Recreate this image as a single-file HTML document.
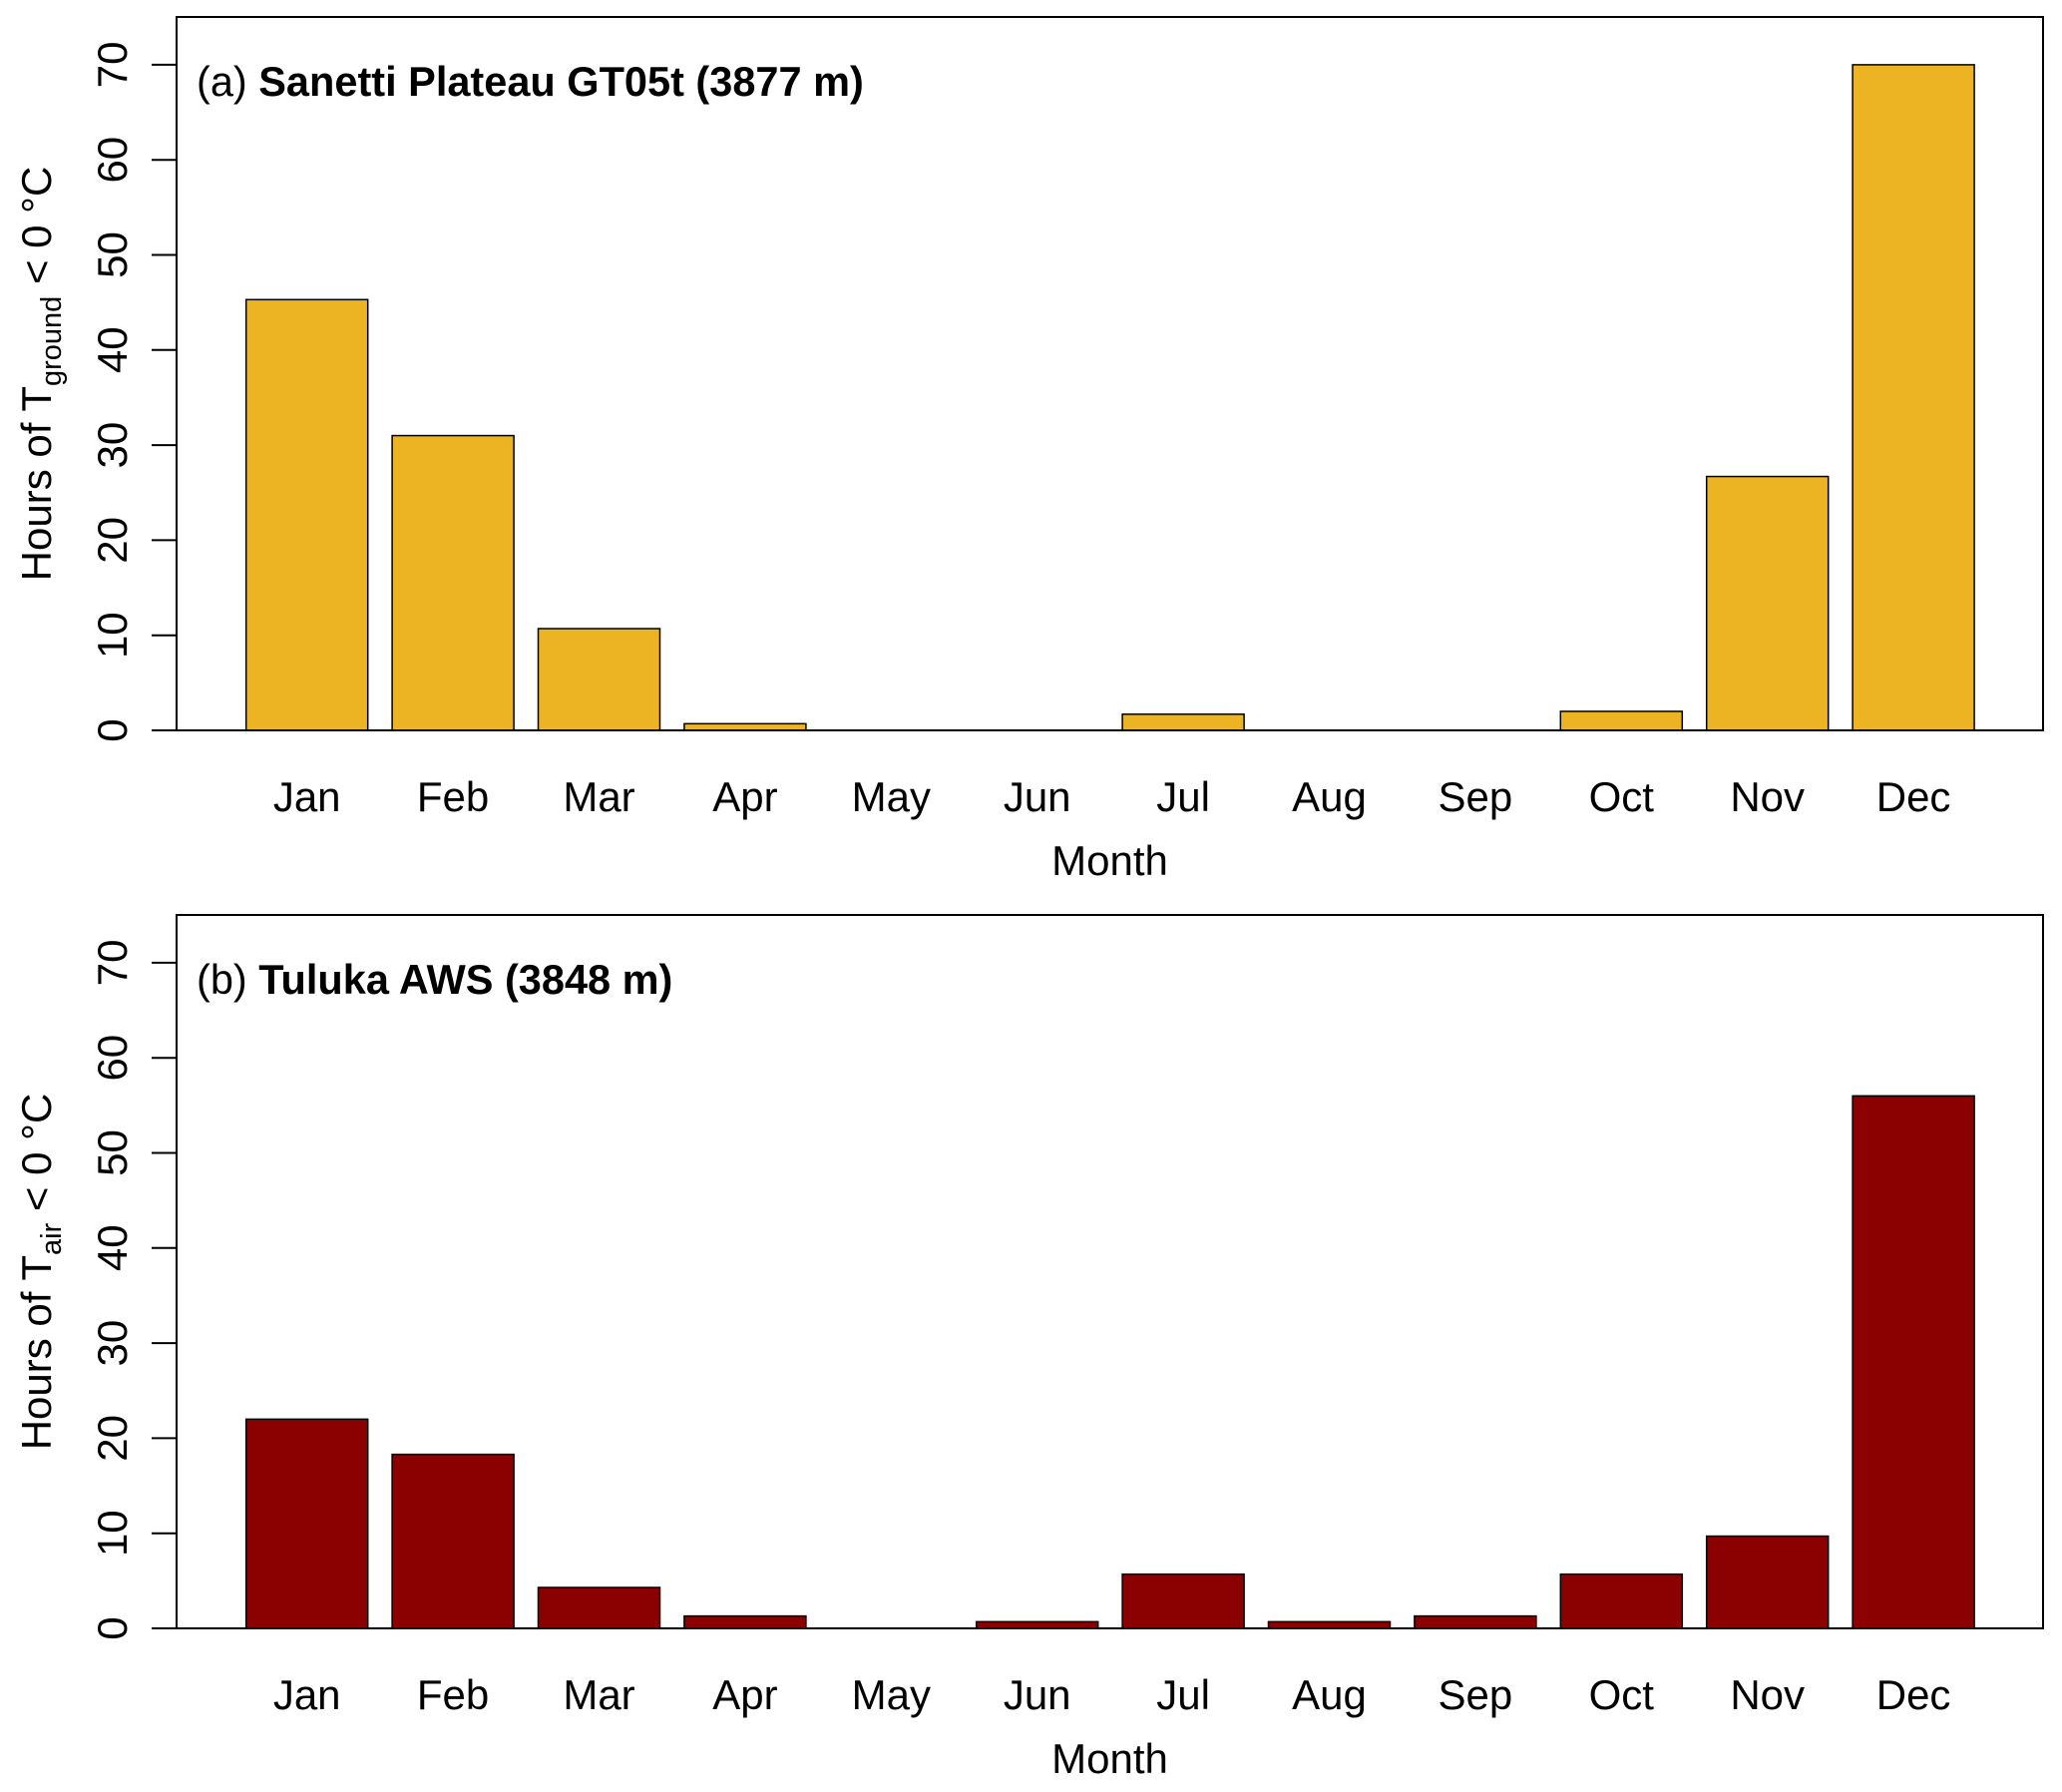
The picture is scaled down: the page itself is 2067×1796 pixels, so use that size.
<!DOCTYPE html>
<html><head><meta charset="utf-8"><style>
html,body{margin:0;padding:0;background:#fff;}
svg{display:block;font-family:"Liberation Sans",Arial,sans-serif;}
</style></head><body>
<svg id="chart" width="2067" height="1796" viewBox="0 0 2067 1796" xmlns="http://www.w3.org/2000/svg"></svg>
<script>
const months = ["Jan","Feb","Mar","Apr","May","Jun","Jul","Aug","Sep","Oct","Nov","Dec"];
const groundHours = [45.3,31,10.7,0.7,0,0,1.7,0,0,2,26.7,70];
const airHours = [22,18.3,4.3,1.3,0,0.7,5.7,0.7,1.3,5.7,9.7,56];
const yTicks = [0,10,20,30,40,50,60,70];

const NS = "http://www.w3.org/2000/svg";
const svg = document.getElementById("chart");
function mk(tag, attrs, parent){
  const e = document.createElementNS(NS, tag);
  for (const k in attrs) e.setAttribute(k, attrs[k]);
  (parent||svg).appendChild(e);
  return e;
}
const L = 177, R = 2048, x0 = 246.7, step = 146.4, bw = 122, pxPerUnit = 9.53;

function panel(key, top, bottom, values, color, titleA, titleB, sub){
  const g = mk("g", {});
  
  
  const y = v => bottom - v * pxPerUnit;
  const xc = i => x0 + i * step + bw / 2;
  values.forEach((v, i) => {
    const h = v * pxPerUnit;
    const r = mk("rect", {x: x0 + i*step, y: y(v), width: bw, height: Math.max(h, 0.01), fill: color, stroke: "#000", "stroke-width": 1.5}, g);
    
    
  });
  const box = mk("rect", {x: L, y: top, width: R-L, height: bottom-top, fill: "none", stroke: "#000", "stroke-width": 2}, g);
  
  
  yTicks.forEach(t => {
    const ln = mk("line", {x1: 152, x2: L, y1: y(t), y2: y(t), stroke: "#000", "stroke-width": 2}, g);
    
    
    const tx = mk("text", {x: 127, y: y(t), "font-size": 42, "text-anchor": "middle", transform: `rotate(-90 127 ${y(t)})`}, g);
    
    
    tx.textContent = t;
  });
  months.forEach((m, i) => {
    const tx = mk("text", {x: xc(i), y: bottom + 81, "font-size": 42, "text-anchor": "middle"}, g);
    
    
    tx.textContent = m;
  });
  const xt = mk("text", {x: (L+R)/2, y: bottom + 145, "font-size": 42, "text-anchor": "middle"}, g);
  
  
  xt.textContent = "Month";
  const cy = (top + bottom) / 2;
  const yt = mk("text", {x: 51, y: cy, "font-size": 42, "text-anchor": "middle", transform: `rotate(-90 51 ${cy})`}, g);
  
  
  const t1 = mk("tspan", {}, yt); t1.textContent = "Hours of T";
  const t2 = mk("tspan", {"font-size": 29, dy: 10}, yt); t2.textContent = sub;
  const t3 = mk("tspan", {dy: -10}, yt); t3.textContent = " < 0 °C";
  const pt = mk("text", {x: 197, y: top + 79, "font-size": 41.5}, g);
  
  
  const p1 = mk("tspan", {}, pt); p1.textContent = titleA + " ";
  const p2 = mk("tspan", {"font-weight": "bold"}, pt); p2.textContent = titleB;
}
panel("a", 17, 732, groundHours, "#ECB423", "(a)", "Sanetti Plateau GT05t (3877 m)", "ground");
panel("b", 917, 1632, airHours, "#8B0000", "(b)", "Tuluka AWS (3848 m)", "air");
</script>
</body></html>
